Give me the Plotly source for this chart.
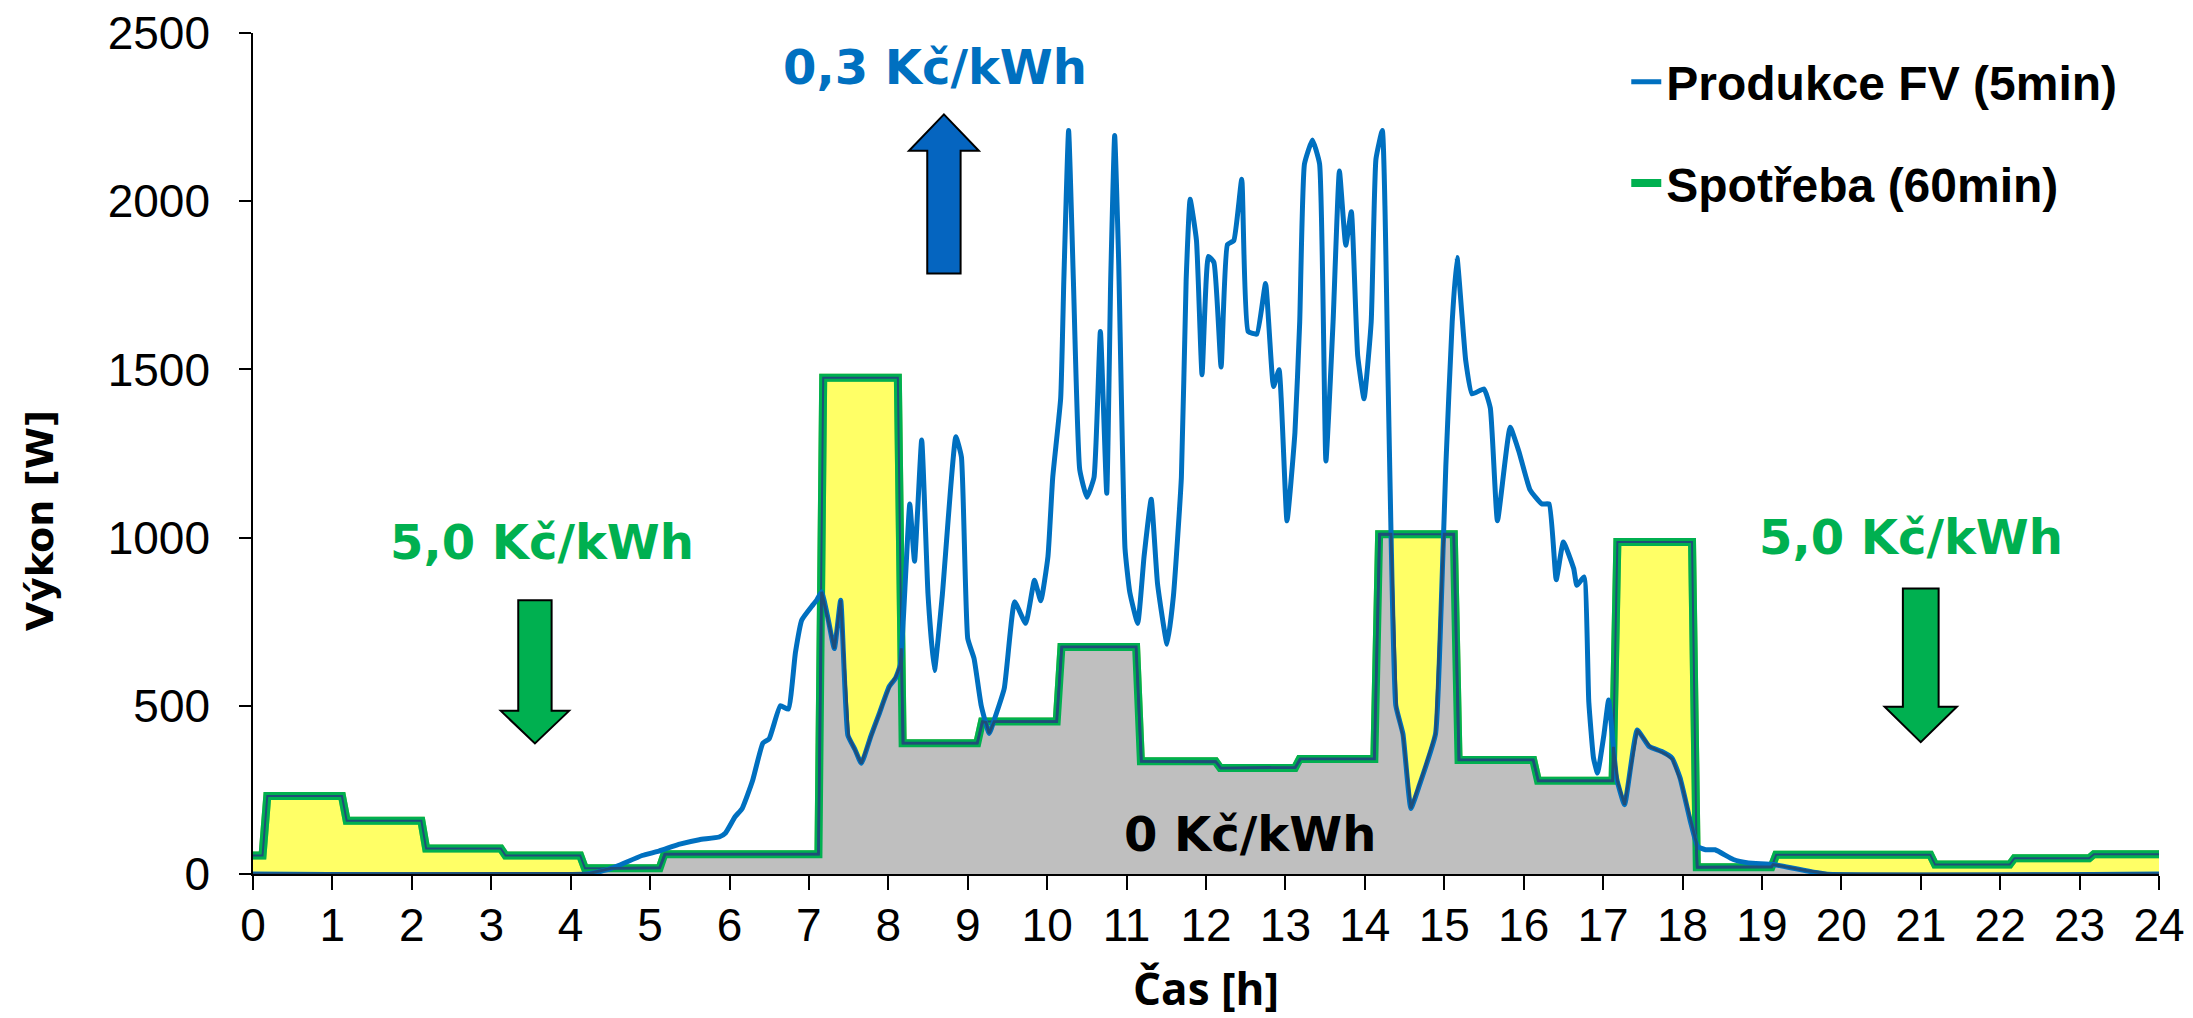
import numpy as np
import plotly.graph_objects as go

# ---------------- data ----------------
# PV production (5-min profile), key points: time [h], power [W]
pv_time = [0.0, 4.2, 4.45, 4.61, 4.9, 5.11, 5.36, 5.62, 5.87, 5.95, 6.07, 6.16, 6.29, 6.42, 6.5,
           6.64, 6.74, 6.83, 6.91, 7.05, 7.1, 7.16, 7.24, 7.32, 7.40, 7.49, 7.58, 7.66, 7.78, 7.88,
           8.01, 8.09, 8.15, 8.22, 8.27, 8.33, 8.42, 8.50, 8.58, 8.68, 8.85, 8.92, 9.0, 9.08, 9.17,
           9.27, 9.34, 9.46, 9.59, 9.73, 9.84, 9.92, 10.01, 10.07, 10.17, 10.21, 10.27, 10.33, 10.41,
           10.5, 10.59, 10.67, 10.75, 10.8, 10.85, 10.9, 10.98, 11.04, 11.14, 11.22, 11.31, 11.39,
           11.51, 11.59, 11.69, 11.75, 11.8, 11.88, 11.95, 12.03, 12.1, 12.19, 12.27, 12.35, 12.45,
           12.53, 12.64, 12.75, 12.85, 12.92, 13.02, 13.12, 13.18, 13.24, 13.34, 13.43, 13.51, 13.6,
           13.68, 13.76, 13.83, 13.91, 13.99, 14.08, 14.14, 14.22, 14.29, 14.33, 14.39, 14.48, 14.58,
           14.68, 14.89, 14.96, 15.02, 15.1, 15.16, 15.27, 15.35, 15.5, 15.58, 15.67, 15.83, 15.94,
           16.08, 16.23, 16.32, 16.41, 16.5, 16.63, 16.67, 16.76, 16.82, 16.88, 16.93, 17.01, 17.07,
           17.17, 17.27, 17.43, 17.58, 17.74, 17.87, 17.97, 18.1, 18.19, 18.29, 18.41, 18.64, 18.83,
           19.15, 19.8, 24.0]
pv_power = [0, 0, 12, 26, 55, 68, 88, 102, 110, 122, 170, 195, 277, 389, 402,
            500, 490, 658, 755, 800, 815, 839, 760, 670, 814, 413, 370, 329, 410, 473,
            557, 582, 621, 900, 1100, 930, 1290, 830, 605, 830, 1300, 1240, 700, 640, 500,
            418, 463, 552, 809, 745, 873, 812, 944, 1179, 1414, 1766, 2210, 1766, 1202,
            1120, 1179, 1613, 1132, 1766, 2195, 1824, 968, 838, 745, 944, 1114, 862,
            683, 827, 1179, 1766, 2006, 1883, 1484, 1836, 1818, 1507, 1871, 1883, 2065,
            1613, 1605, 1755, 1449, 1499, 1050, 1313, 1641, 2111, 2182, 2111, 1228, 1641,
            2090, 1869, 1969, 1541, 1413, 1641, 2125, 2210, 1499, 1010, 501, 416, 195,
            259, 416, 786, 1214, 1641, 1833, 1527, 1427, 1442, 1385, 1050, 1328, 1256,
            1142, 1100, 1100, 875, 987, 908, 858, 883, 512, 344, 300, 413, 517,
            285, 206, 428, 379, 364, 344, 285, 156, 82, 72, 72, 43, 33,
            28, 0, 0]

# Consumption: hourly means [W]; each hour block is logged with a 0.15 h lag
hour_lag = 0.15
cons_before = 55
cons_hourly = [232, 158, 76, 55, 17, 59, 59, 1475, 389, 453, 675, 335,
               315, 342, 1010, 339, 277, 987, 20, 57, 57, 28, 47, 59]

x_ticks = list(range(0, 25))
y_ticks = [0, 500, 1000, 1500, 2000, 2500]

price_labels = [
    dict(text="0,3 Kč/kWh", x=8.59, y=2400, color="#0070C0"),
    dict(text="5,0 Kč/kWh", x=3.64, y=986, color="#00B050"),
    dict(text="5,0 Kč/kWh", x=20.88, y=1003, color="#00B050"),
    dict(text="0 Kč/kWh", x=12.55, y=118, color="#000000"),
]
# block arrows: centre x, tail y, head-base y, tip y, half widths [h]
arrows = [
    dict(cx=8.70, tail=1785, base=2150, tip=2258, bw=0.21, hw=0.44, color="#0565C0"),
    dict(cx=3.55, tail=814, base=485, tip=388, bw=0.21, hw=0.43, color="#00B050"),
    dict(cx=21.0, tail=849, base=497, tip=392, bw=0.225, hw=0.455, color="#00B050"),
]

# ---------------- derived series ----------------
ramp = 0.06
cons_x, cons_y = [0.0], [cons_before]
prev = cons_before
for i, v in enumerate(cons_hourly):
    t0 = i + hour_lag
    cons_x += [t0 - ramp / 2, t0 + ramp / 2]
    cons_y += [prev, v]
    prev = v
cons_x.append(24.0)
cons_y.append(prev)

grid = np.linspace(0, 24, 9601)
pv_g = np.interp(grid, pv_time, pv_power)
cons_g = np.interp(grid, cons_x, cons_y)
self_g = np.minimum(pv_g, cons_g)

YELLOW = "#FFFF66"
LIME = "#92D050"
GREEN = "#00B050"
NAVY = "#1F4E79"
BLUE = "#0070C0"
GRAY = "#BFBFBF"

fig = go.Figure()
fig.add_trace(go.Scatter(x=cons_x, y=cons_y, mode="lines", fill="tozeroy", fillcolor=YELLOW,
                         line=dict(color=LIME, width=8), showlegend=False, hoverinfo="skip"))
fig.add_trace(go.Scatter(x=grid, y=self_g, mode="lines", fill="tozeroy", fillcolor=GRAY,
                         line=dict(width=0), showlegend=False, hoverinfo="skip"))
fig.add_trace(go.Scatter(x=cons_x, y=cons_y, mode="lines", name="Spotřeba (60min)",
                         line=dict(color=GREEN, width=8), legendgroup="b", legendrank=2))
fig.add_trace(go.Scatter(x=cons_x, y=cons_y, mode="lines", line=dict(color=NAVY, width=2),
                         showlegend=False, hoverinfo="skip"))
fig.add_trace(go.Scatter(x=pv_time, y=pv_power, mode="lines", name="Produkce FV (5min)",
                         line=dict(color=BLUE, width=5, shape="spline", smoothing=0.4),
                         legendgroup="a", legendrank=1))
fig.add_trace(go.Scatter(x=grid, y=self_g, mode="lines", line=dict(color=NAVY, width=2.8),
                         showlegend=False, hoverinfo="skip"))

LABEL_FONT = "DejaVu Sans"
for p in price_labels:
    fig.add_annotation(x=p["x"], y=p["y"], xref="x", yref="y", text=p["text"], showarrow=False,
                       font=dict(family=LABEL_FONT, size=48, color=p["color"], weight="bold"))

for a in arrows:
    cx, bw, hw = a["cx"], a["bw"], a["hw"]
    path = (f"M{cx - bw},{a['tail']} L{cx + bw},{a['tail']} L{cx + bw},{a['base']} "
            f"L{cx + hw},{a['base']} L{cx},{a['tip']} L{cx - hw},{a['base']} "
            f"L{cx - bw},{a['base']} Z")
    fig.add_shape(type="path", path=path, xref="x", yref="y", fillcolor=a["color"],
                  line=dict(color="black", width=2))

# y-axis title (placed below centre as in the original)
fig.add_annotation(text="Výkon [W]", xref="paper", yref="paper", x=-0.112, y=0.42,
                   textangle=-90, showarrow=False, xanchor="center", yanchor="middle",
                   font=dict(family=LABEL_FONT, size=38, color="black", weight="bold"))

TICK_FONT = dict(family="Liberation Sans, Arial, sans-serif", size=46, color="black")
fig.update_layout(
    width=2193, height=1018,
    margin=dict(l=253, r=34, t=33, b=144, autoexpand=False),
    paper_bgcolor="white", plot_bgcolor="white",
    showlegend=True,
    legend=dict(x=0.7205, y=0.987, xanchor="left", yanchor="top", bgcolor="rgba(0,0,0,0)",
                font=dict(family="Liberation Sans, Arial, sans-serif", size=48, color="black",
                          weight="bold"),
                tracegroupgap=36, traceorder="grouped"),
    xaxis=dict(range=[0, 24], tickvals=x_ticks, ticktext=[str(v) for v in x_ticks],
               showgrid=False, zeroline=False, showline=True, linecolor="black", linewidth=1.5,
               ticks="outside", ticklen=14, tickwidth=1.5, tickcolor="black", automargin=False,
               tickfont=TICK_FONT, ticklabelstandoff=-4,
               title=dict(text="Čas [h]", standoff=40,
                          font=dict(family="Open Sans", size=44, color="black", weight="bold"))),
    yaxis=dict(range=[0, 2500], tickvals=y_ticks, showgrid=False, zeroline=False,
               showline=True, linecolor="black", linewidth=1.5, automargin=False,
               ticks="outside", ticklen=12, tickwidth=1.5, tickcolor="black",
               tickfont=TICK_FONT, ticklabelstandoff=20),
)

fig.write_html("out.html")
